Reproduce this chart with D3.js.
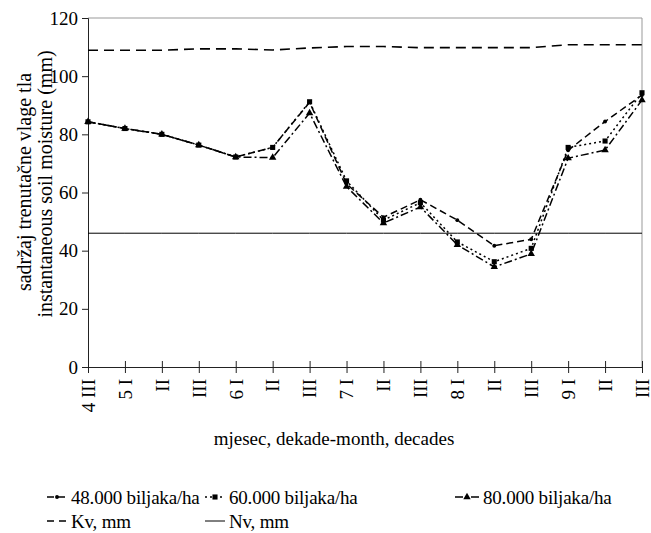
<!DOCTYPE html>
<html>
<head>
<meta charset="utf-8">
<script src="https://cdn.jsdelivr.net/npm/d3@7"></script>
<style>
  body { margin: 0; background: #fff; }
</style>
</head>
<body>
<svg id="chart" width="651" height="533"></svg>
<script>
const decades = ["4 III", "5 I", "II", "III", "6 I", "II", "III", "7 I", "II", "III", "8 I", "II", "III", "9 I", "II", "III"];
const yTicks = [0, 20, 40, 60, 80, 100, 120];

const plants48 = [84.3, 82, 80, 76.3, 72.2, 75.5, 91, 63, 51.5, 57.5, 50.5, 41.7, 43.9, 74.5, 84.4, 93.5];
const plants60 = [84.3, 82, 80, 76.3, 72.2, 75.5, 91.2, 64, 50.5, 56.5, 43, 36.2, 40.8, 75.5, 77.7, 94.3];
const plants80 = [84.3, 82, 80, 76.3, 72.2, 72, 87.3, 62, 49.5, 55, 42, 34.4, 38.9, 71.8, 74.6, 91.8];
const kv = [108.9, 108.9, 108.9, 109.4, 109.4, 109, 109.7, 110.2, 110.2, 109.8, 109.8, 109.8, 109.8, 110.8, 110.8, 110.8];
const nv = Array(decades.length).fill(46);

const FONT = "'Liberation Serif', 'Times New Roman', 'DejaVu Serif', serif";

const svg = d3.select("#chart").attr("font-family", FONT);
const margin = { top: 18, right: 9, bottom: 166, left: 88 };
const width = 651 - margin.left - margin.right;
const height = 533 - margin.top - margin.bottom;

const g = svg.append("g").attr("transform", `translate(${margin.left},${margin.top})`);

const x = d3.scalePoint().domain(d3.range(decades.length)).range([0, width]);
const y = d3.scaleLinear().domain([0, 120]).range([height, 0]);

// frame top + right
g.append("path")
  .attr("d", `M0,0H${width}V${height}`)
  .attr("fill", "none").attr("stroke", "#999").attr("stroke-width", 1);

// y axis
const yAxis = g.append("g")
  .call(d3.axisLeft(y).tickValues(yTicks).tickSize(6).tickPadding(4))
  .attr("font-family", FONT);
yAxis.select(".domain").attr("stroke", "#222");
yAxis.selectAll(".tick line").attr("stroke", "#222");
yAxis.selectAll("text").style("font-size", "19px").style("font-family", FONT);

// x axis
const xAxis = g.append("g").attr("transform", `translate(0,${height})`)
  .call(d3.axisBottom(x).tickSize(6).tickFormat(i => decades[i]))
  .attr("font-family", FONT);
xAxis.select(".domain").attr("stroke", "#222");
xAxis.selectAll(".tick line").attr("y1", -6).attr("stroke", "#222");
xAxis.selectAll("text")
  .style("font-size", "19px").style("font-family", FONT)
  .attr("transform", "rotate(-90)")
  .attr("text-anchor", "end")
  .attr("x", -12).attr("y", 0).attr("dy", "0.33em");

const line = d3.line().x((d, i) => x(i)).y(d => y(d));

const series = [
  { name: "48.000 biljaka/ha", data: plants48, dash: "7,4", marker: "dot" },
  { name: "60.000 biljaka/ha", data: plants60, dash: "2,3", marker: "square" },
  { name: "80.000 biljaka/ha", data: plants80, dash: "8,3,2,3", marker: "triangle" }
];

// Nv and Kv
g.append("path").datum(nv).attr("d", line)
  .attr("fill", "none").attr("stroke", "#000").attr("stroke-width", 1);
g.append("path").datum(kv).attr("d", line)
  .attr("fill", "none").attr("stroke", "#000").attr("stroke-width", 1.6)
  .attr("stroke-dasharray", "10,6");

const symbolFor = m => m === "square" ? d3.symbolSquare : (m === "triangle" ? d3.symbolTriangle : d3.symbolCircle);
const sizeFor = m => m === "square" ? 26 : (m === "triangle" ? 24 : 12);

series.forEach(s => {
  g.append("path").datum(s.data).attr("d", line)
    .attr("fill", "none").attr("stroke", "#000").attr("stroke-width", 1.5)
    .attr("stroke-dasharray", s.dash);
  g.selectAll(null).data(s.data).enter().append("path")
    .attr("transform", (d, i) => `translate(${x(i)},${y(d)})`)
    .attr("d", d3.symbol().type(symbolFor(s.marker)).size(sizeFor(s.marker)))
    .attr("fill", "#000");
});

// axis titles
svg.append("text")
  .attr("transform", "translate(31,182) rotate(-90)")
  .attr("text-anchor", "middle").style("font-size", "20px").style("font-family", FONT)
  .text("sadržaj trenutačne vlage tla");
svg.append("text")
  .attr("transform", "translate(52,184) rotate(-90)")
  .attr("text-anchor", "middle").style("font-size", "20px").style("font-family", FONT)
  .text("instantaneous soil moisture  (mm)");
svg.append("text")
  .attr("x", 334).attr("y", 445)
  .attr("text-anchor", "middle").style("font-size", "19px").style("font-family", FONT)
  .text("mjesec, dekade-month, decades");

// legend
const legendItems = [
  { name: "48.000 biljaka/ha", dash: "7,4", marker: "dot", x: 47, y: 497 },
  { name: "60.000 biljaka/ha", dash: "2,3", marker: "square", x: 205, y: 497 },
  { name: "80.000 biljaka/ha", dash: "8,3,2,3", marker: "triangle", x: 455, y: 497 },
  { name: "Kv, mm", dash: "7,5", marker: null, x: 47, y: 521 },
  { name: "Nv, mm", dash: null, marker: null, x: 205, y: 521 }
];
const lg = svg.append("g");
legendItems.forEach(it => {
  const w = it.marker === "triangle" ? 24 : 20;
  lg.append("line")
    .attr("x1", it.x).attr("x2", it.x + w).attr("y1", it.y).attr("y2", it.y)
    .attr("stroke", "#000").attr("stroke-width", it.dash ? 1.5 : 1)
    .attr("stroke-dasharray", it.dash);
  if (it.marker) {
    lg.append("path")
      .attr("transform", `translate(${it.x + w / 2},${it.y})`)
      .attr("d", d3.symbol().type(symbolFor(it.marker)).size(sizeFor(it.marker)))
      .attr("fill", "#000");
  }
  lg.append("text")
    .attr("x", it.x + w + 4).attr("y", it.y).attr("dy", "0.35em")
    .style("font-size", "19px").style("font-family", FONT)
    .style("letter-spacing", "-0.2px")
    .text(it.name);
});
</script>
</body>
</html>
